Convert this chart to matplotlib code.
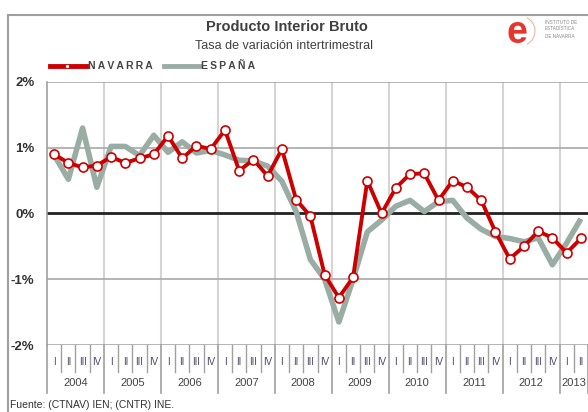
import numpy as np
import matplotlib
matplotlib.use('Agg')
from matplotlib import pyplot as plt
from matplotlib.patches import Arc
from matplotlib.lines import Line2D
import matplotlib.transforms as mtransforms

plt.rcParams['font.family'] = ['Liberation Sans', 'DejaVu Sans']

# ------------------- DATOS -------------------------
years = ['2004', '2005', '2006', '2007', '2008', '2009', '2010', '2011', '2012', '2013']
quarters = ['I', 'II', 'III', 'IV']
n_quarters = [4, 4, 4, 4, 4, 4, 4, 4, 4, 2]

navarra = [0.90, 0.77, 0.70, 0.73, 0.86, 0.77, 0.84, 0.90,
           1.18, 0.84, 1.03, 0.98, 1.27, 0.65, 0.82, 0.57,
           0.98, 0.21, -0.04, -0.93, -1.28, -0.97, 0.50, 0.00,
           0.39, 0.60, 0.61, 0.20, 0.50, 0.40, 0.20, -0.28,
           -0.69, -0.50, -0.27, -0.37, -0.60, -0.38]
espana = [0.89, 0.52, 1.30, 0.40, 1.02, 1.02, 0.88, 1.19,
          0.93, 1.09, 0.92, 0.96, 0.89, 0.81, 0.80, 0.72,
          0.49, 0.03, -0.70, -1.00, -1.65, -1.00, -0.28, -0.10,
          0.11, 0.20, 0.03, 0.18, 0.20, -0.07, -0.24, -0.35,
          -0.38, -0.43, -0.37, -0.78, -0.45, -0.08]

ROJO = '#cc0000'
GRIS = '#9aada5'

W, H = 588, 412
fig = plt.figure(figsize=(W / 100, H / 100), dpi=100)

# marco exterior
fig.add_artist(Line2D([8 / W, 8 / W], [0, 1 - 15 / H], transform=fig.transFigure, color='#a0a0a0', lw=1.5))
fig.add_artist(Line2D([8 / W, 1], [1 - 15 / H, 1 - 15 / H], transform=fig.transFigure, color='#a0a0a0', lw=1.5))

ax = fig.add_axes([47 / W, 1 - 345 / H, 541 / W, 263 / H])
x = np.arange(len(navarra))
ax.set_xlim(-0.5, len(navarra) - 0.5)
ax.set_ylim(-2, 2)

for v in [-2, -1, 1, 2]:
    ax.axhline(v, color='#a8a8a8', lw=1.2, zorder=1)
ax.axhline(0, color='#222222', lw=2, zorder=1)

bounds = np.cumsum([0] + n_quarters) - 0.5
for b in bounds[1:-1]:
    ax.axvline(b, color='#d4d4d4', lw=1.5, zorder=0)

ax.plot(x, espana, color=GRIS, lw=4, zorder=2, solid_capstyle='butt')
ax.plot(x, navarra, color=ROJO, lw=2.8, zorder=3, marker='o', ms=6.5,
        mfc='white', mec=ROJO, mew=1.2)

ax.set_yticks([-2, -1, 0, 1, 2])
ax.set_yticklabels(['-2%', '-1%', '0%', '1%', '2%'], fontsize=9.5, fontweight='bold', color='#333333')
ax.tick_params(axis='y', length=0, pad=9)
ax.set_xticks([])
for s in ['top', 'right', 'bottom']:
    ax.spines[s].set_visible(False)
ax.spines['left'].set_color('#a0a0a0')
ax.spines['left'].set_linewidth(1.2)

# eje de categorías (trimestres y años)
trans = mtransforms.blended_transform_factory(ax.transData, ax.transAxes)
for i, yr in enumerate(years):
    start = bounds[i]
    ax.add_line(Line2D([start, start], [0, -0.183], transform=trans, color='#a0a0a0', lw=1.2, clip_on=False))
    for q in range(n_quarters[i]):
        pos = start + q
        if q > 0:
            ax.add_line(Line2D([pos, pos], [0, -0.103], transform=trans, color='#a0a0a0', lw=1, clip_on=False))
        ax.text(pos + 0.5, -0.065, quarters[q], transform=trans, ha='center', va='center',
                fontsize=7, color='#4a4a6a', clip_on=False)
    ax.text(start + n_quarters[i] / 2, -0.144, yr, transform=trans, ha='center', va='center',
            fontsize=8, color='#444444', clip_on=False)
ax.add_line(Line2D([bounds[-1], bounds[-1]], [0, -0.183], transform=trans, color='#a0a0a0', lw=1.2, clip_on=False))

# títulos
fig.text(287 / W, 1 - 27 / H, 'Producto Interior Bruto', ha='center', va='center',
         fontsize=10.5, fontweight='bold', color='#404040')
fig.text(284 / W, 1 - 46 / H, 'Tasa de variación intertrimestral', ha='center', va='center',
         fontsize=9, color='#404040')

# leyenda
ly = 1 - 66 / H
ts = '\u2009'
fig.add_artist(Line2D([50 / W, 86 / W], [ly, ly], transform=fig.transFigure, color=ROJO, lw=3.5))
fig.add_artist(Line2D([67 / W], [ly], transform=fig.transFigure, marker='o', ms=3,
                      mfc='white', mec=ROJO, mew=0.6, lw=0))
fig.text(88 / W, ly, ts.join('NAVARRA'), ha='left', va='center', fontsize=7.5, fontweight='bold', color='#444444')
fig.add_artist(Line2D([164 / W, 200 / W], [ly, ly], transform=fig.transFigure, color=GRIS, lw=3.5))
fig.text(201 / W, ly, ts.join('ESPAÑA'), ha='left', va='center', fontsize=7.5, fontweight='bold', color='#444444')

# logo
fig.text(517 / W, 1 - 33 / H, 'e', ha='center', va='center', fontsize=27, fontweight='bold', color='#e8352b')
fig.add_artist(Arc((520 / W, 1 - 31 / H), 30 / W, 30 / H, theta1=-70, theta2=70,
                   transform=fig.transFigure, color='#f2b0ac', lw=0.8))
for j, t in enumerate(['INSTITUTO DE', 'ESTADÍSTICA', 'DE NAVARRA']):
    fig.text(545 / W, 1 - (22 + j * 7) / H, t, ha='left', va='center', fontsize=3.3, color='#888888')

fig.text(10 / W, 1 - 405 / H, 'Fuente: (CTNAV) IEN; (CNTR) INE.', ha='left', va='center',
         fontsize=7.5, color='#333333')

plt.savefig('out.png', dpi=100)
